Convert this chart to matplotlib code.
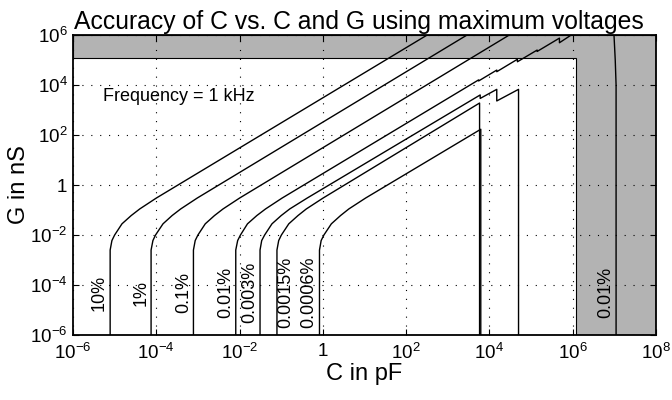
import matplotlib
matplotlib.use('Agg')  # no display

import matplotlib.pyplot as plt

plt.rcParams['font.family'] = ['Liberation Sans', 'DejaVu Sans']
plt.rcParams['mathtext.fontset'] = 'custom'
plt.rcParams['mathtext.rm'] = 'Liberation Sans'
plt.rcParams['mathtext.it'] = 'Liberation Sans:italic'

# C in pF, G in nS
c_10 = [7.8e-6, 7.8e-6, 8.6e-6, 1.0e-5, 1.5e-5, 2.5e-5, 4.0e-5, 1.0e-4, 3.2e2]
g_10 = [1e-6, 2.5e-3, 6e-3, 1e-2, 2.8e-2, 6e-2, 0.11, 0.3, 1e6]

c_1 = [7.5e-5, 7.5e-5, 8.3e-5, 9.6e-5, 1.45e-4, 2.4e-4, 3.85e-4, 9.6e-4, 2.9e3]
g_1 = [1e-6, 2.5e-3, 6e-3, 1e-2, 2.8e-2, 6e-2, 0.11, 0.3, 1e6]

c_01 = [7.8e-4, 7.8e-4, 8.6e-4, 1.0e-3, 1.5e-3, 2.5e-3, 4.0e-3, 1.0e-2, 3.0e4]
g_01 = [1e-6, 2.5e-3, 6e-3, 1e-2, 2.8e-2, 6e-2, 0.11, 0.3, 1e6]

c_001 = [8.1e-3, 8.1e-3, 9.0e-3, 1.05e-2, 1.55e-2, 2.6e-2, 4.2e-2, 0.105,
         5.5e3, 5.5e3, 1.5e4, 1.5e4, 4.7e4, 4.7e4, 1.4e5, 1.4e5, 4.8e5, 4.8e5, 9.2e5]
g_001 = [1e-6, 2.5e-3, 6e-3, 1e-2, 2.8e-2, 6e-2, 0.11, 0.3,
         1.6e4, 1.45e4, 3.95e4, 3.4e4, 1.07e5, 8.5e4, 2.5e5, 2.2e5, 7.5e5, 4.9e5, 1e6]

c_0003 = [0.031, 0.031, 0.034, 0.040, 0.060, 0.10, 0.16, 0.42,
          6.0e3, 6.0e3, 1.5e4, 1.5e4, 5.0e4, 5.0e4]
g_0003 = [1e-6, 2.5e-3, 6e-3, 1e-2, 2.8e-2, 6e-2, 0.11, 0.3,
          4.0e3, 2.9e3, 6.7e3, 2.3e3, 6.7e3, 1e-6]

c_00015 = [0.079, 0.079, 0.087, 0.101, 0.152, 0.253, 0.40, 1.01, 5.8e3, 5.8e3]
g_00015 = [1e-6, 2.5e-3, 6e-3, 1e-2, 2.8e-2, 6e-2, 0.11, 0.3, 1.9e3, 1e-6]

c_00006 = [0.83, 0.83, 0.91, 1.06, 1.6, 2.66, 4.2, 10.6, 6.2e3, 6.2e3]
g_00006 = [1e-6, 2.5e-3, 6e-3, 1e-2, 2.8e-2, 6e-2, 0.11, 0.3, 170, 1e-6]

# the one in the grey area
c_hi = [1.1e7, 1.1e7, 1.05e7, 9.8e6]
g_hi = [1e-6, 1e4, 1e5, 1e6]

# limits of the usable area (outside is grey)
c_max = 1.2e6
g_max = 1.2e5

curve_labels = ['10%', '1%', '0.1%', '0.01%', '0.003%', '0.0015%', '0.0006%', '0.01%']
label_c = [4.3e-6, 4.3e-5, 4.5e-4, 4.7e-3, 0.018, 0.127, 0.45, 6.2e6]
label_g = 5e-5

x_ticks = [1e-6, 1e-4, 1e-2, 1, 1e2, 1e4, 1e6, 1e8]
x_ticklabels = ['$10^{-6}$', '$10^{-4}$', '$10^{-2}$', '1', '$10^{2}$', '$10^{4}$', '$10^{6}$', '$10^{8}$']
y_ticks = [1e-6, 1e-4, 1e-2, 1, 1e2, 1e4, 1e6]
y_ticklabels = ['$10^{-6}$', '$10^{-4}$', '$10^{-2}$', '1', '$10^{2}$', '$10^{4}$', '$10^{6}$']

fig = plt.figure(figsize=(6.72, 4.0), dpi=100)
ax = fig.add_axes([73 / 672, 65 / 400, 583 / 672, 300 / 400])
ax.set_xscale('log')
ax.set_yscale('log')
ax.set_xlim(1e-6, 1e8)
ax.set_ylim(1e-6, 1e6)

# grey L-shaped region
ax.fill([1e-6, c_max, c_max, 1e8, 1e8, 1e-6],
        [g_max, g_max, 1e-6, 1e-6, 1e6, 1e6],
        facecolor='#b3b3b3', edgecolor='black', linewidth=0.8)

for cc, gg in [(c_10, g_10), (c_1, g_1), (c_01, g_01), (c_001, g_001),
               (c_0003, g_0003), (c_00015, g_00015), (c_00006, g_00006), (c_hi, g_hi)]:
    ax.plot(cc, gg, color='black', linewidth=1.0)

for lab, xc in zip(curve_labels, label_c):
    ax.text(xc, label_g, lab, rotation=90, ha='center', va='center', fontsize=13)

ax.text(5.3e-6, 3.4e3, 'Frequency = 1 kHz', ha='left', va='center', fontsize=13)

ax.set_xticks(x_ticks)
ax.set_xticklabels(x_ticklabels)
ax.set_yticks(y_ticks)
ax.set_yticklabels(y_ticklabels)
ax.minorticks_off()
ax.tick_params(which='both', direction='in', top=True, right=True, length=4,
               labelsize=13.5, width=0.8)
ax.tick_params(axis='x', pad=6)
ax.tick_params(axis='y', pad=4)
ax.grid(True, linestyle=(0, (1, 7)), color='black', linewidth=0.8)
for sp in ax.spines.values():
    sp.set_linewidth(1.3)

ax.set_xlabel('C in pF', fontsize=17, labelpad=0)
ax.set_ylabel('G in nS', fontsize=17, labelpad=0)
ax.set_title('Accuracy of C vs. C and G using maximum voltages', fontsize=17.8, pad=4, x=0.49)

plt.savefig('out.png', dpi=100)
